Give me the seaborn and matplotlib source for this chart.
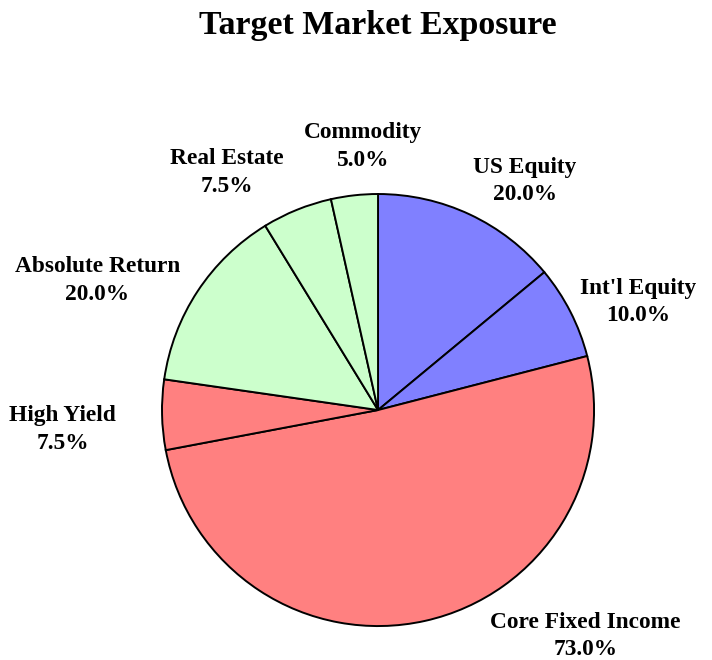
import matplotlib
matplotlib.use("Agg")
import matplotlib.pyplot as plt
import seaborn as sns

sns.set_theme(style="white")
plt.rcParams['font.family'] = ['Liberation Serif', 'DejaVu Serif']
plt.rcParams['text.color'] = 'black'

# data, clockwise from 12 o'clock
categories = ["US Equity", "Int'l Equity", "Core Fixed Income", "High Yield",
              "Absolute Return", "Real Estate", "Commodity"]
exposure = [20.0, 10.0, 73.0, 7.5, 20.0, 7.5, 5.0]
groups = ["equity", "equity", "fixed", "fixed", "alt", "alt", "alt"]

group_colors = {"equity": "#8080FF", "fixed": "#FF8080", "alt": "#CCFFCC"}

# label centres in data units (pie radius = 1)
label_pos = {
    "US Equity": (0.68, 1.06),
    "Int'l Equity": (1.205, 0.50),
    "Core Fixed Income": (0.96, -1.045),
    "High Yield": (-1.46, -0.09),
    "Absolute Return": (-1.30, 0.60),
    "Real Estate": (-0.70, 1.10),
    "Commodity": (-0.07, 1.22),
}

fig = plt.figure(figsize=(7.12, 6.6), dpi=100)
ax = fig.add_axes([0, 0, 1, 1])

ax.pie(exposure, colors=[group_colors[g] for g in groups],
       startangle=90, counterclock=False, radius=1,
       wedgeprops={'edgecolor': 'black', 'linewidth': 1.4})

for cat, val in zip(categories, exposure):
    x, y = label_pos[cat]
    ax.text(x, y, f"{cat}\n{val:.1f}%", ha='center', va='center',
            fontsize=16.8, fontweight='bold', linespacing=1.4, color='black')

ax.set_xlim(-1.75, 1.546)
ax.set_ylim(-1.157, 1.898)
ax.set_aspect('equal')
ax.axis('off')

fig.text(0.531, 0.962, "Target Market Exposure", ha='center', va='center',
         fontsize=24.4, fontweight='bold', color='black')

fig.savefig("out.png", dpi=100, facecolor='white')
